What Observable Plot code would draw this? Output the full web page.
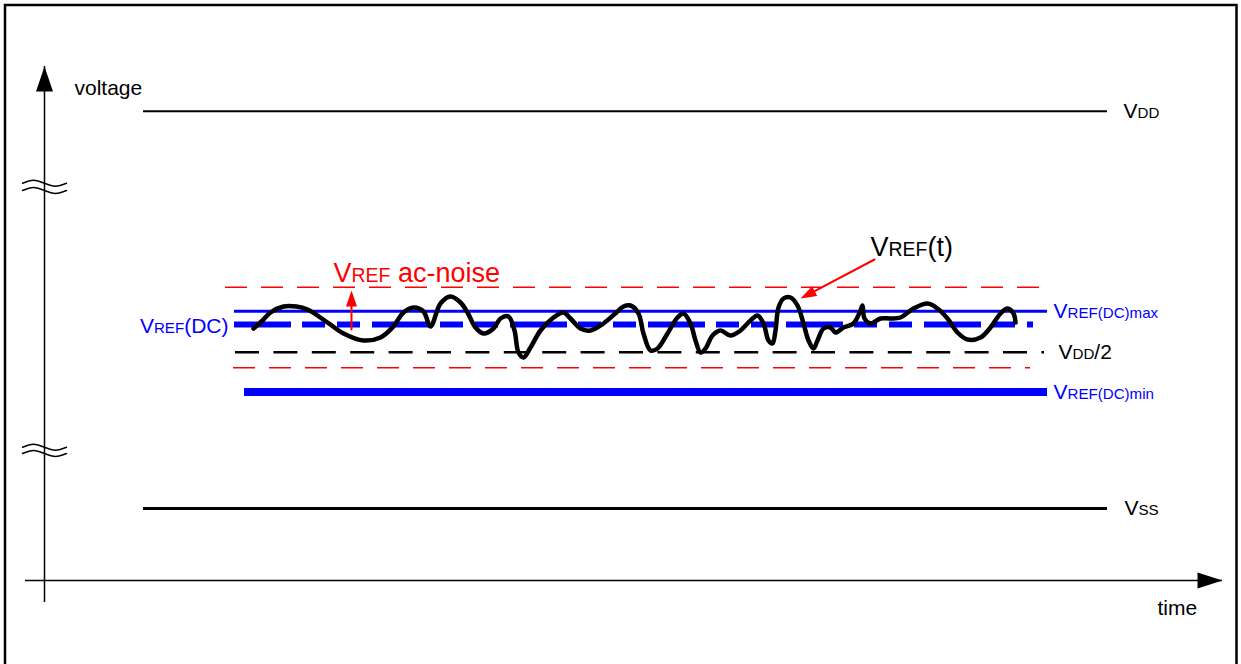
<!DOCTYPE html>
<html><head><meta charset="utf-8">
<script src="https://cdn.jsdelivr.net/npm/d3@7"></script>
<script src="https://cdn.jsdelivr.net/npm/@observablehq/plot@0.6"></script>
<style>html,body{margin:0;padding:0;background:#fff;overflow:hidden}</style>
</head><body><div id="chart"></div>
<script>
// Units: time measured from the voltage axis, voltage measured from the time axis (schematic units)
const levelNames  = ["VDD", "VSS", "noiseHigh", "VREF(DC)max", "VREF(DC)", "VDD/2", "noiseLow", "VREF(DC)min"];
const levelVolts  = [46.93, 7.2, 29.33, 26.92, 25.6, 22.83, 21.27, 18.85];
const levelStart  = [9.9, 9.9, 18.1, 19.0, 19.0, 19.1, 18.9, 20.0];
const levelEnd    = [106.3, 106.3, 99.9, 100.3, 98.9, 100.0, 98.6, 100.3];
const levelLabels = ["V_{DD}", "V_{SS}", "", "V_{REF(DC)max}", "V_{REF}(DC)", "V_{DD}/2", "", "V_{REF(DC)min}"];

// VREF(t) waveform
const waveTime = [20.9,21.8,22.6,23.9,25.2,26.3,28.3,29.9,31.9,33.6,34.8,35.9,36.9,37.9,38.6,39.6,40.6,41.6,42.3,43.1,
  43.9,44.9,45.6,46.4,47.0,47.4,47.9,48.6,49.6,50.9,51.9,52.6,53.6,54.6,55.9,57.3,57.9,58.6,59.4,59.9,
  60.6,61.3,62.3,63.3,63.9,64.6,65.1,65.6,66.1,66.8,67.6,68.6,69.6,70.6,71.3,71.9,72.4,72.8,73.1,73.4,
  73.9,74.6,75.3,75.9,76.4,76.9,77.3,77.9,78.6,79.1,79.9,80.9,81.6,81.8,82.0,82.6,83.6,84.6,85.6,86.9,
  88.3,89.3,90.3,91.3,92.3,93.6,94.6,95.6,96.3,96.9,97.1];
const waveVolt = [25.2,26.0,26.8,27.4,27.4,27.1,25.8,24.7,24.0,24.3,25.3,26.8,27.3,26.9,25.4,27.7,28.4,27.8,26.8,25.3,
  24.7,25.2,26.2,26.4,25.0,22.8,22.3,23.3,25.0,26.3,26.8,26.2,25.2,25.0,25.7,26.9,27.4,27.5,26.7,24.7,
  23.0,23.2,24.7,26.3,26.7,25.7,24.0,22.8,23.2,24.5,25.0,24.5,25.0,26.0,26.5,25.7,24.0,23.7,25.0,27.3,
  28.2,28.3,27.5,25.7,24.0,23.2,24.0,25.2,25.3,24.8,25.3,25.7,27.0,27.5,26.2,25.7,26.2,26.2,26.3,27.2,
  27.7,27.2,26.2,24.8,24.1,24.3,25.3,26.7,27.2,26.7,25.8];

// Axes extents
const axisTime = [-1.9, 117.8];
const axisVolt = [-2.2, 51.4];
const axisLabels = ["voltage", "time"];

// Axis break glyphs
const breakVolts  = [39.73, 39.0, 13.33, 12.7];
const breakShapeT = [-2.2, -1.1, 0, 1.1, 2.2];
const breakShapeV = [0, 0.3, 0, -0.3, 0];

// Annotation arrows
const noiseArrowTime = [30.7, 30.7];
const noiseArrowVolt = [25.1, 29.0];
const refArrowTime = [83.0, 75.6];
const refArrowVolt = [32.1, 28.2];
const annotationLabels = ["V_{REF} ac-noise", "V_{REF}(t)"];

// ---- build ----
const levels = levelNames.map((name, i) => ({name, v: levelVolts[i], t1: levelStart[i], t2: levelEnd[i], label: levelLabels[i]}));
const L = n => levels.filter(d => d.name === n);
const wave = waveTime.map((t, i) => ({t, v: waveVolt[i]}));
const breaks = breakVolts.flatMap((bv, k) => breakShapeT.map((dt, j) => ({k, t: dt, v: bv + breakShapeV[j]})));
const arrowRow = (T, V) => ({t1: T[0], v1: V[0], t2: T[1], v2: V[1]});
const noiseArrow = arrowRow(noiseArrowTime, noiseArrowVolt);
const refArrow = arrowRow(refArrowTime, refArrowVolt);
const screenAngle = a => Math.atan2(-(a.v2 - a.v1), a.t2 - a.t1) * 180 / Math.PI;

function head(angle, len, wid) {
  const a = angle * Math.PI / 180, c = Math.cos(a), s = Math.sin(a);
  const pt = (x, y) => [x * c - y * s, x * s + y * c];
  return {draw(ctx) {
    const p1 = pt(-len, -wid / 2), p2 = pt(-len, wid / 2);
    ctx.moveTo(0, 0); ctx.lineTo(p1[0], p1[1]); ctx.lineTo(p2[0], p2[1]); ctx.closePath();
  }};
}

const BLUE = "#0000ff", RED = "#ff0000";
const levelText = (name, dx, fill, anchor = "start", dy = 0) =>
  Plot.text(L(name), {x: anchor === "start" ? "t2" : "t1", y: "v", text: "label", dx, dy, fill,
    textAnchor: anchor, lineAnchor: "middle", fontSize: 21});

const chart = Plot.plot({
  width: 1241, height: 664, margin: 0,
  x: {domain: [-4.4, 119.7], axis: null},
  y: {domain: [-8.4, 58.0], axis: null},
  style: {fontFamily: "'Liberation Sans', Arial, sans-serif", background: "white", overflow: "hidden"},
  marks: [
    Plot.frame({stroke: "black", strokeWidth: 2.5, insetLeft: 4.5, insetTop: 4.5, insetRight: 5, insetBottom: -10}),
    // axes
    Plot.ruleX([{t: 0, v1: axisVolt[0], v2: axisVolt[1]}], {x: "t", y1: "v1", y2: "v2", stroke: "black", strokeWidth: 1.5}),
    Plot.ruleY([{v: 0, t1: axisTime[0], t2: axisTime[1]}], {y: "v", x1: "t1", x2: "t2", stroke: "black", strokeWidth: 1.5}),
    Plot.dot([{t: 0, v: axisVolt[1]}], {x: "t", y: "v", r: 1, symbol: head(-90, 25, 17), fill: "black", stroke: "none"}),
    Plot.dot([{t: axisTime[1], v: 0}], {x: "t", y: "v", r: 1, symbol: head(0, 25, 16), fill: "black", stroke: "none"}),
    Plot.line(breaks, {x: "t", y: "v", z: "k", curve: "natural", stroke: "black", strokeWidth: 1.5}),
    Plot.text([{t: 0, v: axisVolt[1], s: axisLabels[0]}], {x: "t", y: "v", text: "s", dx: 30, dy: 28, lineAnchor: "bottom", textAnchor: "start", fontSize: 21, fill: "black"}),
    Plot.text([{t: axisTime[1], v: 0, s: axisLabels[1]}], {x: "t", y: "v", text: "s", dx: -65, dy: 34, lineAnchor: "bottom", textAnchor: "start", fontSize: 21, fill: "black"}),
    // levels
    Plot.ruleY(L("VDD"), {y: "v", x1: "t1", x2: "t2", stroke: "black", strokeWidth: 2}),
    Plot.ruleY(L("VSS"), {y: "v", x1: "t1", x2: "t2", stroke: "black", strokeWidth: 3}),
    Plot.ruleY(L("noiseHigh"), {y: "v", x1: "t1", x2: "t2", stroke: RED, strokeWidth: 1.5, strokeDasharray: "22,14"}),
    Plot.ruleY(L("noiseLow"), {y: "v", x1: "t1", x2: "t2", stroke: RED, strokeWidth: 1.5, strokeDasharray: "22,14"}),
    Plot.ruleY(L("VDD/2"), {y: "v", x1: "t1", x2: "t2", stroke: "black", strokeWidth: 2.5, strokeDasharray: "24,14.4"}),
    Plot.ruleY(L("VREF(DC)max"), {y: "v", x1: "t1", x2: "t2", stroke: BLUE, strokeWidth: 3}),
    Plot.ruleY(L("VREF(DC)"), {y: "v", x1: "t1", x2: "t2", stroke: BLUE, strokeWidth: 6, strokeDasharray: "57,11,23,12,23,12"}),
    Plot.ruleY(L("VREF(DC)min"), {y: "v", x1: "t1", x2: "t2", stroke: BLUE, strokeWidth: 8}),
    // waveform
    Plot.line(wave, {x: "t", y: "v", curve: "catmull-rom", stroke: "black", strokeWidth: 4.5, strokeLinejoin: "round", strokeLinecap: "round"}),
    // annotation arrows
    Plot.arrow([noiseArrow], {x1: "t1", y1: "v1", x2: "t2", y2: "v2", stroke: RED, strokeWidth: 2, headLength: 0, insetEnd: 8}),
    Plot.dot([noiseArrow], {x: "t2", y: "v2", r: 1, symbol: head(screenAngle(noiseArrow), 16, 11), fill: RED, stroke: "none"}),
    Plot.arrow([refArrow], {x1: "t1", y1: "v1", x2: "t2", y2: "v2", stroke: RED, strokeWidth: 2, headLength: 0, insetEnd: 8}),
    Plot.dot([refArrow], {x: "t2", y: "v2", r: 1, symbol: head(screenAngle(refArrow), 16, 11), fill: RED, stroke: "none"}),
    // labels
    levelText("VDD", 16, "black"),
    levelText("VSS", 17, "black"),
    levelText("VREF(DC)max", 6, BLUE),
    levelText("VDD/2", 14, "black"),
    levelText("VREF(DC)min", 6, BLUE),
    levelText("VREF(DC)", -6, BLUE, "end", 2),
    Plot.text([{...noiseArrow, s: annotationLabels[0]}], {x: "t2", y: "v2", text: "s", dx: -18, dy: -9, lineAnchor: "bottom", textAnchor: "start", fontSize: 27, fill: RED}),
    Plot.text([{...refArrow, s: annotationLabels[1]}], {x: "t1", y: "v1", text: "s", dx: -4, dy: -4, lineAnchor: "bottom", textAnchor: "start", fontSize: 27, fill: "black"})
  ]
});

// Render "_{...}" segments as smaller, baseline-aligned tspans
chart.querySelectorAll("text").forEach(el => {
  const s = el.textContent;
  if (!s.includes("_{")) return;
  while (el.firstChild) el.removeChild(el.firstChild);
  const re = /_\{([^}]*)\}/g;
  let last = 0, m;
  const add = (str, small) => {
    if (!str) return;
    const ts = document.createElementNS("http://www.w3.org/2000/svg", "tspan");
    if (small) ts.setAttribute("font-size", "0.72em");
    ts.textContent = str;
    el.appendChild(ts);
  };
  while ((m = re.exec(s))) { add(s.slice(last, m.index), false); add(m[1], true); last = re.lastIndex; }
  add(s.slice(last), false);
});

document.getElementById("chart").appendChild(chart);
</script>
</body></html>
